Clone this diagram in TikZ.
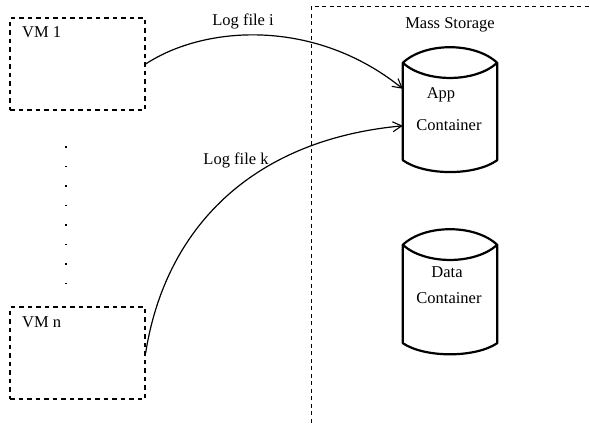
\documentclass[tikz,border=0pt]{standalone}
\usepackage{fontspec}
\setmainfont{Liberation Serif}
\usetikzlibrary{arrows.meta,calc}
\begin{document}
\begin{tikzpicture}[x=1pt,y=-1pt,
  lbl/.style={font=\fontsize{16.5}{19}\selectfont, inner sep=0pt},
  vmbox/.style={draw, line width=1.3pt, dash pattern=on 4.5pt off 4pt,
    minimum width=135pt, minimum height=92pt, inner sep=0pt},
  region/.style={line width=0.9pt, dash pattern=on 4pt off 3.5pt},
  cyl/.style={line width=2.2pt, line join=round},
  flow/.style={line width=1.2pt, -{Straight Barb[length=9pt,width=10pt,line width=1.1pt]}},
  dot/.style={fill, minimum size=1.8pt, inner sep=0pt}]
\useasboundingbox (0,0) rectangle (590,426);

% virtual machines
\node[vmbox] (vm1) at (77.5,64) {};
\node[lbl, anchor=north west] (vm1l) at (22,26) {VM 1};
\node[vmbox] (vmn) at (77.5,353) {};
\node[lbl, anchor=north west] (vmnl) at (22,316) {VM n};

% vertical ellipsis between the machines
\foreach \i in {0,...,7}
  \node[dot] (d\i) at (66,{147+19.5*\i}) {};

% mass storage region
\draw[region] (311,430) -- (311,6) -- (595,6);
\node[lbl] (ms) at (450,25) {Mass Storage};

% containers: bounding node, then the cylinder outline
\node[minimum width=94pt, minimum height=97pt, inner sep=0pt] (app) at (450,111.5) {};
\draw[cyl] (app.north west) .. controls (425,42) and (475,42) .. (app.north east)
  -- (app.south east) .. controls (475,176) and (425,176) .. (app.south west) -- cycle;
\draw[cyl] (app.north west) .. controls (425,83) and (475,83) .. (app.north east);
\node[lbl] (appa) at (441,95) {App};
\node[lbl] (appb) at (449,125) {Container};

\node[minimum width=94pt, minimum height=98pt, inner sep=0pt] (data) at (450,294) {};
\draw[cyl] (data.north west) .. controls (425,224) and (475,224) .. (data.north east)
  -- (data.south east) .. controls (475,358) and (425,358) .. (data.south west) -- cycle;
\draw[cyl] (data.north west) .. controls (425,265) and (475,265) .. (data.north east);
\node[lbl] (dataa) at (447,272) {Data};
\node[lbl] (datab) at (449,298) {Container};

% log file transfers
\coordinate (in1) at ($(app.north west)+(0,26)$);
\coordinate (in2) at ($(app.north west)+(0,63)$);
\draw[flow] (vm1.east) .. controls (205,25) and (315,18) .. (in1);
\node[lbl] (li) at (243,21) {Log file i};
\draw[flow] (vmn.east) .. controls (165,230) and (250,140) .. (in2);
\node[lbl] (lk) at (236,160) {Log file k};
\end{tikzpicture}
\end{document}
